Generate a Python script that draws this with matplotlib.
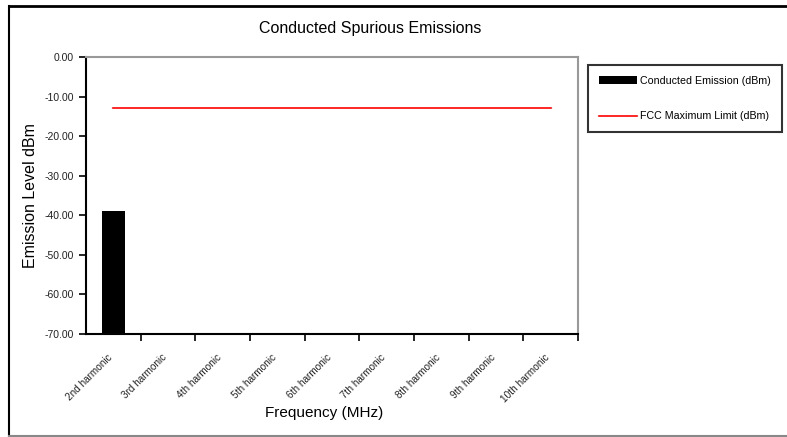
import matplotlib
matplotlib.use("Agg")
import matplotlib.pyplot as plt
from matplotlib.lines import Line2D
from matplotlib.ticker import FormatStrFormatter

plt.rcParams['font.family'] = ['Liberation Sans', 'DejaVu Sans']

# Data
harmonics = ["2nd harmonic", "3rd harmonic", "4th harmonic", "5th harmonic",
             "6th harmonic", "7th harmonic", "8th harmonic", "9th harmonic",
             "10th harmonic"]
emission = [-38.8, None, None, None, None, None, None, None, None]
fcc_limit = [-13.0] * len(harmonics)

W, H = 787, 437
fig = plt.figure(figsize=(W / 100, H / 100), dpi=100)

# outer frame of the screenshot
fig.add_artist(Line2D([9 / W, 9 / W], [1 - 436 / H, 1 - 6 / H], color="black", lw=1.5))
fig.add_artist(Line2D([9 / W, 1], [1 - 6 / H, 1 - 6 / H], color="black", lw=2))
fig.add_artist(Line2D([9 / W, 1], [1 - 436 / H, 1 - 436 / H], color="#888888", lw=1.5))

ax = fig.add_axes([86 / W, 1 - 334 / H, (578 - 86) / W, (334 - 57) / H])

x = list(range(len(harmonics)))
bx = [i for i, v in zip(x, emission) if v is not None]
bv = [v for v in emission if v is not None]
# bars grow up from the axis floor at -70
bars = ax.bar(bx, [v + 70 for v in bv], bottom=-70, width=0.41, color="black",
              label="Conducted Emission (dBm)")
line, = ax.plot(x, fcc_limit, color="red", lw=1.2, label="FCC Maximum Limit (dBm)")

ax.set_xlim(-0.5, len(harmonics) - 0.5)
ax.set_ylim(-70, 0)
ax.set_yticks(range(-70, 1, 10))
ax.yaxis.set_major_formatter(FormatStrFormatter("%.2f"))

# ticks sit between categories; labels a little left of the category centres
ax.set_xticks([i + 0.5 for i in x])
ax.set_xticklabels([])
ax.set_xticks([i - 0.11 for i in x], minor=True)
ax.set_xticklabels(harmonics, minor=True, rotation=45, ha="right",
                   rotation_mode="anchor", fontsize=7.2, color="#222222")
ax.tick_params(axis="x", which="minor", length=0, pad=13)
ax.tick_params(axis="x", which="major", direction="out", length=5, width=1.2)
ax.tick_params(axis="y", direction="out", length=5, width=1.2,
               labelsize=7.5, labelcolor="#222222")

for s in ["left", "bottom"]:
    ax.spines[s].set_color("black")
    ax.spines[s].set_linewidth(1.5)
for s in ["top", "right"]:
    ax.spines[s].set_color("#999999")
    ax.spines[s].set_linewidth(1.5)

ax.set_xlabel("Frequency (MHz)", fontsize=11)
ax.xaxis.set_label_coords(0.484, -(406 - 334) / (334 - 57))
ax.set_ylabel("Emission Level dBm", fontsize=11.5)
ax.yaxis.set_label_coords(-(86 - 38) / (578 - 86), 0.5)
fig.text((258 + 482) / 2 / W, 1 - 28 / H, "Conducted Spurious Emissions",
         ha="center", va="center", fontsize=11.5)

leg = ax.legend([bars, line], [bars.get_label(), line.get_label()],
                loc="upper left", bbox_to_anchor=(588 / W, 1 - 65 / H),
                bbox_transform=fig.transFigure, fontsize=7.7, frameon=True,
                fancybox=False, edgecolor="black", labelspacing=2.4,
                handlelength=3.6, handletextpad=0.3, borderpad=1.0,
                borderaxespad=0)
leg.get_frame().set_linewidth(1.5)

fig.savefig("out.png", dpi=100)
